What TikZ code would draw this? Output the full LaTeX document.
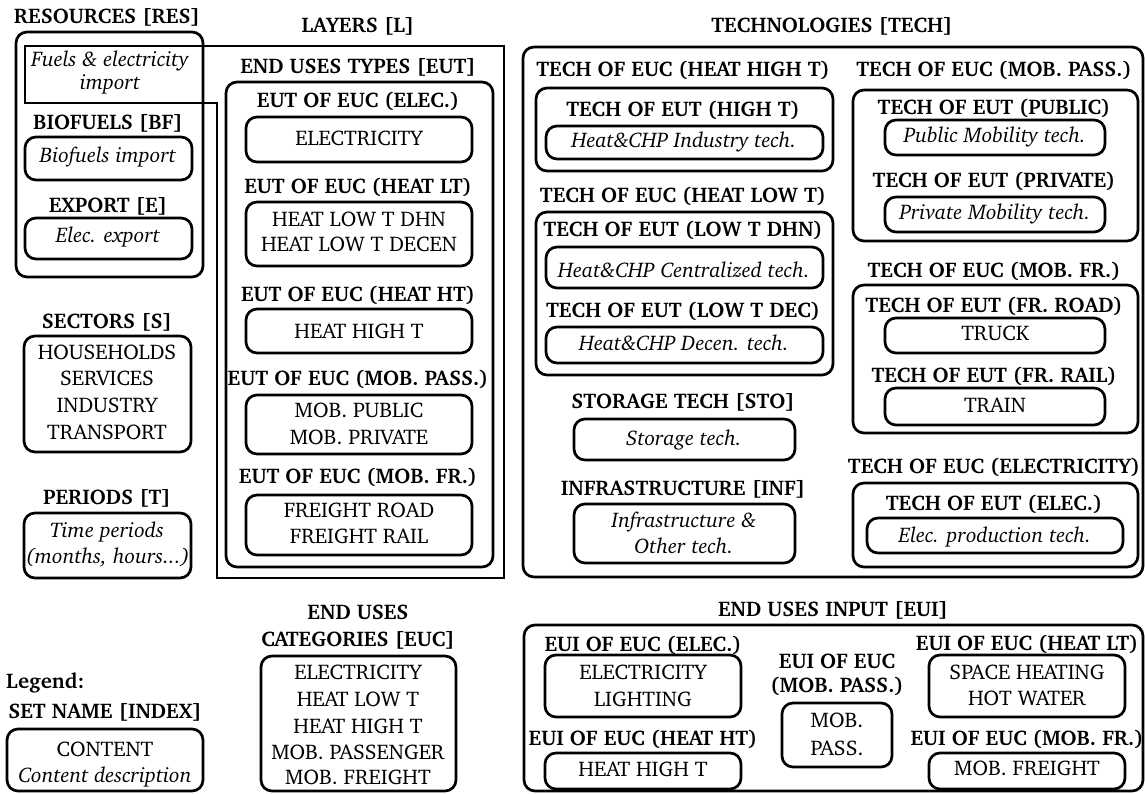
\documentclass[tikz,border=0pt]{standalone}
\usepackage[T1]{fontenc}
\usepackage{charter}
\newcommand\basefont{\fontsize{21.2}{26}\selectfont}
% rounded set box given by its corners (x1,y1) and (x2,y2), y measured downwards
\newcommand\bx[5]{\node[rbox, minimum width={#4pt-#2pt}, minimum height={#5pt-#3pt}] (#1) at ({(#2+#4)/2},{(#3+#5)/2}) {};}
% text placed on its baseline
\newcommand\Ttl[4]{\node[ttl] (#1) at (#2,#3) {#4};}
\newcommand\Txt[4]{\node[txt] (#1) at (#2,#3) {#4};}
\newcommand\Itx[4]{\node[itx] (#1) at (#2,#3) {#4};}
\tikzset{
  rbox/.style={draw, line width=2.7pt, rounded corners=11pt, inner sep=0pt, outer sep=0pt},
  ttl/.style={font=\basefont\bfseries, anchor=base, inner sep=0pt},
  txt/.style={font=\basefont, anchor=base, inner sep=0pt},
  itx/.style={font=\basefont\itshape, anchor=base, inner sep=0pt},
}
\begin{document}
\begin{tikzpicture}[x=1pt, y=-1pt]
\useasboundingbox (0,0) rectangle (1145,794);

% ---------------- resources ----------------
\Ttl{resT}{107}{24}{RESOURCES [RES]}
\bx{res}{16}{32}{203}{277}
\Itx{fuel1}{110}{67}{Fuels \& electricity}
\Itx{fuel2}{110}{90}{import}
\Ttl{bfT}{108}{130}{BIOFUELS [BF]}
\bx{bf}{25}{137}{192}{180}
\Itx{bfx}{108}{163}{Biofuels import}
\Ttl{expT}{108}{213}{EXPORT [E]}
\bx{exp}{25}{218}{192}{259}
\Itx{expx}{108}{243}{Elec. export}

% ---------------- sectors and periods ----------------
\Ttl{secT}{107}{328}{SECTORS [S]}
\bx{sec}{24}{336}{191}{452}
\Txt{sec1}{107}{359}{HOUSEHOLDS}
\Txt{sec2}{107}{385}{SERVICES}
\Txt{sec3}{107}{412}{INDUSTRY}
\Txt{sec4}{107}{439}{TRANSPORT}
\Ttl{perT}{107}{504}{PERIODS [T]}
\bx{per}{24}{513}{191}{578}
\Itx{per1}{107}{537}{Time periods}
\Itx{per2}{108}{563}{(months, hours...)}

% ---------------- layers and end-use types ----------------
\Ttl{layT}{358}{33}{LAYERS [L]}
\draw[line width=2.7pt] (25,46) coordinate (lay1) -- (504,46) -- (504,578) -- (217,578)
  -- (217,103) -- (25,103) -- cycle;
\Ttl{eutT}{358}{74}{END USES TYPES [EUT]}
\bx{eut}{226}{82}{493}{567}
\Ttl{eut1T}{358}{108}{EUT OF EUC (ELEC.)}
\bx{eut1}{246}{117}{472}{162}
\Txt{eut1a}{359}{146}{ELECTRICITY}
\Ttl{eut2T}{358}{194}{EUT OF EUC (HEAT LT)}
\bx{eut2}{246}{202}{472}{266}
\Txt{eut2a}{359}{227}{HEAT LOW T DHN}
\Txt{eut2b}{359}{252}{HEAT LOW T DECEN}
\Ttl{eut3T}{358}{301}{EUT OF EUC (HEAT HT)}
\bx{eut3}{246}{309}{472}{353}
\Txt{eut3a}{359}{338}{HEAT HIGH T}
\Ttl{eut4T}{358}{385}{EUT OF EUC (MOB. PASS.)}
\bx{eut4}{246}{395}{472}{454}
\Txt{eut4a}{359}{417}{MOB. PUBLIC}
\Txt{eut4b}{359}{444}{MOB. PRIVATE}
\Ttl{eut5T}{358}{483}{EUT OF EUC (MOB. FR.)}
\bx{eut5}{246}{495}{472}{555}
\Txt{eut5a}{359}{517}{FREIGHT ROAD}
\Txt{eut5b}{359}{543}{FREIGHT RAIL}

% ---------------- technologies ----------------
\Ttl{techT}{832}{33}{TECHNOLOGIES [TECH]}
\bx{tech}{523}{47}{1143}{577}
\Ttl{hhT}{683}{77}{TECH OF EUC (HEAT HIGH T)}
\bx{hh}{536}{88}{833}{171}
\Ttl{hh1T}{683}{117}{TECH OF EUT (HIGH T)}
\bx{hh1}{546}{126}{823}{159}
\Itx{hh1x}{684}{148}{Heat\&CHP Industry tech.}
\Ttl{hlT}{683}{203}{TECH OF EUC (HEAT LOW T)}
\bx{hl}{536}{212}{833}{375}
\Ttl{hl1T}{683}{237}{TECH OF EUT (LOW T DHN)}
\bx{hl1}{546}{247}{823}{288}
\Itx{hl1x}{684}{277}{Heat\&CHP Centralized tech.}
\Ttl{hl2T}{683}{317}{TECH OF EUT (LOW T DEC)}
\bx{hl2}{546}{327}{823}{363}
\Itx{hl2x}{684}{350}{Heat\&CHP Decen. tech.}
\Ttl{stoT}{683}{408}{STORAGE TECH [STO]}
\bx{sto}{574}{419}{795}{460}
\Itx{stox}{684}{445}{Storage tech.}
\Ttl{infT}{683}{495}{INFRASTRUCTURE [INF]}
\bx{inf}{574}{504}{795}{563}
\Itx{inf1}{684}{527}{Infrastructure \&}
\Itx{inf2}{684}{553}{Other tech.}

\Ttl{mpT}{994}{77}{TECH OF EUC (MOB. PASS.)}
\bx{mp}{853}{90}{1138}{241}
\Ttl{mp1T}{994}{115}{TECH OF EUT (PUBLIC)}
\bx{mp1}{885}{120}{1105}{155}
\Itx{mp1x}{995}{143}{Public Mobility tech.}
\Ttl{mp2T}{994}{188}{TECH OF EUT (PRIVATE)}
\bx{mp2}{885}{197}{1105}{232}
\Itx{mp2x}{995}{220}{Private Mobility tech.}
\Ttl{mfT}{994}{277}{TECH OF EUC (MOB. FR.)}
\bx{mf}{853}{285}{1138}{433}
\Ttl{mf1T}{994}{312}{TECH OF EUT (FR. ROAD)}
\bx{mf1}{885}{318}{1105}{353}
\Txt{mf1x}{995}{340}{TRUCK}
\Ttl{mf2T}{994}{382}{TECH OF EUT (FR. RAIL)}
\bx{mf2}{885}{388}{1105}{425}
\Txt{mf2x}{995}{412}{TRAIN}
\Ttl{elT}{994}{473}{TECH OF EUC (ELECTRICITY)}
\bx{el}{853}{483}{1138}{567}
\Ttl{el1T}{994}{510}{TECH OF EUT (ELEC.)}
\bx{el1}{867}{518}{1123}{553}
\Itx{el1x}{995}{542}{Elec. production tech.}

% ---------------- end-use categories and legend ----------------
\Ttl{eucT1}{358}{619}{END USES}
\Ttl{eucT2}{358}{646}{CATEGORIES [EUC]}
\bx{euc}{261}{656}{456}{791}
\Txt{euc1}{358}{679}{ELECTRICITY}
\Txt{euc2}{358}{706}{HEAT LOW T}
\Txt{euc3}{358}{733}{HEAT HIGH T}
\Txt{euc4}{358}{759}{MOB. PASSENGER}
\Txt{euc5}{358}{784}{MOB. FREIGHT}

\node[ttl, anchor=base west] (legT) at (6,688) {Legend:};
\Ttl{legS}{105}{718}{SET NAME [INDEX]}
\bx{leg}{7}{729}{203}{791}
\Txt{leg1}{105}{756}{CONTENT}
\Itx{leg2}{105}{782}{Content description}

% ---------------- end-use inputs ----------------
\Ttl{euiT}{833}{616}{END USES INPUT [EUI]}
\bx{eui}{524}{625}{1143}{791}
\Ttl{ui1T}{643}{651}{EUI OF EUC (ELEC.)}
\bx{ui1}{545}{655}{741}{717}
\Txt{ui1a}{643}{679}{ELECTRICITY}
\Txt{ui1b}{643}{706}{LIGHTING}
\Ttl{ui2T}{643}{745}{EUI OF EUC (HEAT HT)}
\bx{ui2}{545}{753}{741}{789}
\Txt{ui2a}{643}{776}{HEAT HIGH T}
\Ttl{ui3T1}{837}{668}{EUI OF EUC}
\Ttl{ui3T2}{837}{692}{(MOB. PASS.)}
\bx{ui3}{782}{703}{892}{767}
\Txt{ui3a}{837}{727}{MOB.}
\Txt{ui3b}{837}{755}{PASS.}
\Ttl{ui4T}{1027}{650}{EUI OF EUC (HEAT LT)}
\bx{ui4}{929}{655}{1125}{717}
\Txt{ui4a}{1027}{679}{SPACE HEATING}
\Txt{ui4b}{1027}{705}{HOT WATER}
\Ttl{ui5T}{1027}{745}{EUI OF EUC (MOB. FR.)}
\bx{ui5}{929}{753}{1125}{789}
\Txt{ui5a}{1027}{775}{MOB. FREIGHT}
\end{tikzpicture}
\end{document}
